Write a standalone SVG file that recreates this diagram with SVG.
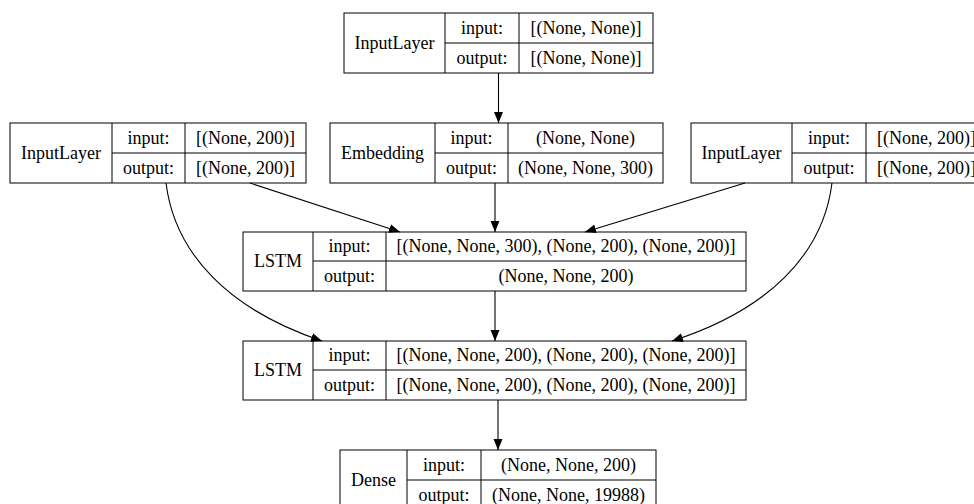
<svg xmlns="http://www.w3.org/2000/svg" width="974" height="504" viewBox="0 0 974 504" font-family="'Liberation Serif', 'Times New Roman', 'DejaVu Serif', serif">
<style>
rect.b{fill:none;stroke:#000;stroke-width:1}
line.d{stroke:#000;stroke-width:1}
text{font-family:'Liberation Serif','Times New Roman','DejaVu Serif',serif;font-size:18px;fill:#000;text-anchor:middle}
.e{fill:none;stroke:#000;stroke-width:1.1;marker-end:url(#ah)}
</style>
<defs>
<marker id="ah" markerUnits="userSpaceOnUse" markerWidth="12" markerHeight="10" refX="11" refY="4.5" orient="auto">
<path d="M0,0 L11,4.5 L0,9 z" fill="#000"/>
</marker>
</defs>
<rect width="974" height="504" fill="#fff"/>
<g id="connectors">
<path class="e" d="M498.5,73 L498.5,123"/>
<path class="e" d="M495,183 L495,232"/>
<path class="e" d="M250,183 L400,232"/>
<path class="e" d="M745,183 L585,232"/>
<path class="e" d="M166,183 C175,255 230,310 322,341"/>
<path class="e" d="M832,183 C823,255 768,310 672,341"/>
<path class="e" d="M495,291 L495,341"/>
<path class="e" d="M498,400 L498,450"/>
</g>
<g id="input_top">
<rect class="b" x="344" y="13" width="309" height="60"/>
<line class="d" x1="445" y1="13" x2="445" y2="73"/>
<line class="d" x1="519" y1="13" x2="519" y2="73"/>
<line class="d" x1="445" y1="43" x2="653" y2="43"/>
<text x="394.5" y="48.5">InputLayer</text>
<text x="482" y="33.5">input:</text>
<text x="482" y="63.5">output:</text>
<text x="586" y="33.5">[(None, None)]</text>
<text x="586" y="63.5">[(None, None)]</text>
</g>
<g id="input_left">
<rect class="b" x="10" y="123" width="296" height="60"/>
<line class="d" x1="112" y1="123" x2="112" y2="183"/>
<line class="d" x1="185" y1="123" x2="185" y2="183"/>
<line class="d" x1="112" y1="153" x2="306" y2="153"/>
<text x="61" y="158.5">InputLayer</text>
<text x="148.5" y="143.5">input:</text>
<text x="148.5" y="173.5">output:</text>
<text x="245.5" y="143.5">[(None, 200)]</text>
<text x="245.5" y="173.5">[(None, 200)]</text>
</g>
<g id="embedding">
<rect class="b" x="330" y="123" width="333" height="60"/>
<line class="d" x1="435" y1="123" x2="435" y2="183"/>
<line class="d" x1="508" y1="123" x2="508" y2="183"/>
<line class="d" x1="435" y1="153" x2="663" y2="153"/>
<text x="382.5" y="158.5">Embedding</text>
<text x="471.5" y="143.5">input:</text>
<text x="471.5" y="173.5">output:</text>
<text x="585.5" y="143.5">(None, None)</text>
<text x="585.5" y="173.5">(None, None, 300)</text>
</g>
<g id="input_right">
<rect class="b" x="691" y="123" width="296" height="60"/>
<line class="d" x1="792" y1="123" x2="792" y2="183"/>
<line class="d" x1="866" y1="123" x2="866" y2="183"/>
<line class="d" x1="792" y1="153" x2="987" y2="153"/>
<text x="741.5" y="158.5">InputLayer</text>
<text x="829" y="143.5">input:</text>
<text x="829" y="173.5">output:</text>
<text x="926.5" y="143.5">[(None, 200)]</text>
<text x="926.5" y="173.5">[(None, 200)]</text>
</g>
<g id="lstm1">
<rect class="b" x="243" y="232" width="503" height="59"/>
<line class="d" x1="313" y1="232" x2="313" y2="291"/>
<line class="d" x1="386" y1="232" x2="386" y2="291"/>
<line class="d" x1="313" y1="261" x2="746" y2="261"/>
<text x="278" y="267">LSTM</text>
<text x="349.5" y="252">input:</text>
<text x="349.5" y="281.5">output:</text>
<text x="566" y="252">[(None, None, 300), (None, 200), (None, 200)]</text>
<text x="566" y="281.5">(None, None, 200)</text>
</g>
<g id="lstm2">
<rect class="b" x="243" y="341" width="503" height="59"/>
<line class="d" x1="313" y1="341" x2="313" y2="400"/>
<line class="d" x1="386" y1="341" x2="386" y2="400"/>
<line class="d" x1="313" y1="370" x2="746" y2="370"/>
<text x="278" y="376">LSTM</text>
<text x="349.5" y="361">input:</text>
<text x="349.5" y="390.5">output:</text>
<text x="566" y="361">[(None, None, 200), (None, 200), (None, 200)]</text>
<text x="566" y="390.5">[(None, None, 200), (None, 200), (None, 200)]</text>
</g>
<g id="dense">
<rect class="b" x="340" y="450" width="316" height="60"/>
<line class="d" x1="407" y1="450" x2="407" y2="510"/>
<line class="d" x1="481" y1="450" x2="481" y2="510"/>
<line class="d" x1="407" y1="480" x2="656" y2="480"/>
<text x="373.5" y="485.5">Dense</text>
<text x="444" y="470.5">input:</text>
<text x="444" y="500.5">output:</text>
<text x="568.5" y="470.5">(None, None, 200)</text>
<text x="568.5" y="500.5">(None, None, 19988)</text>
</g>
</svg>
